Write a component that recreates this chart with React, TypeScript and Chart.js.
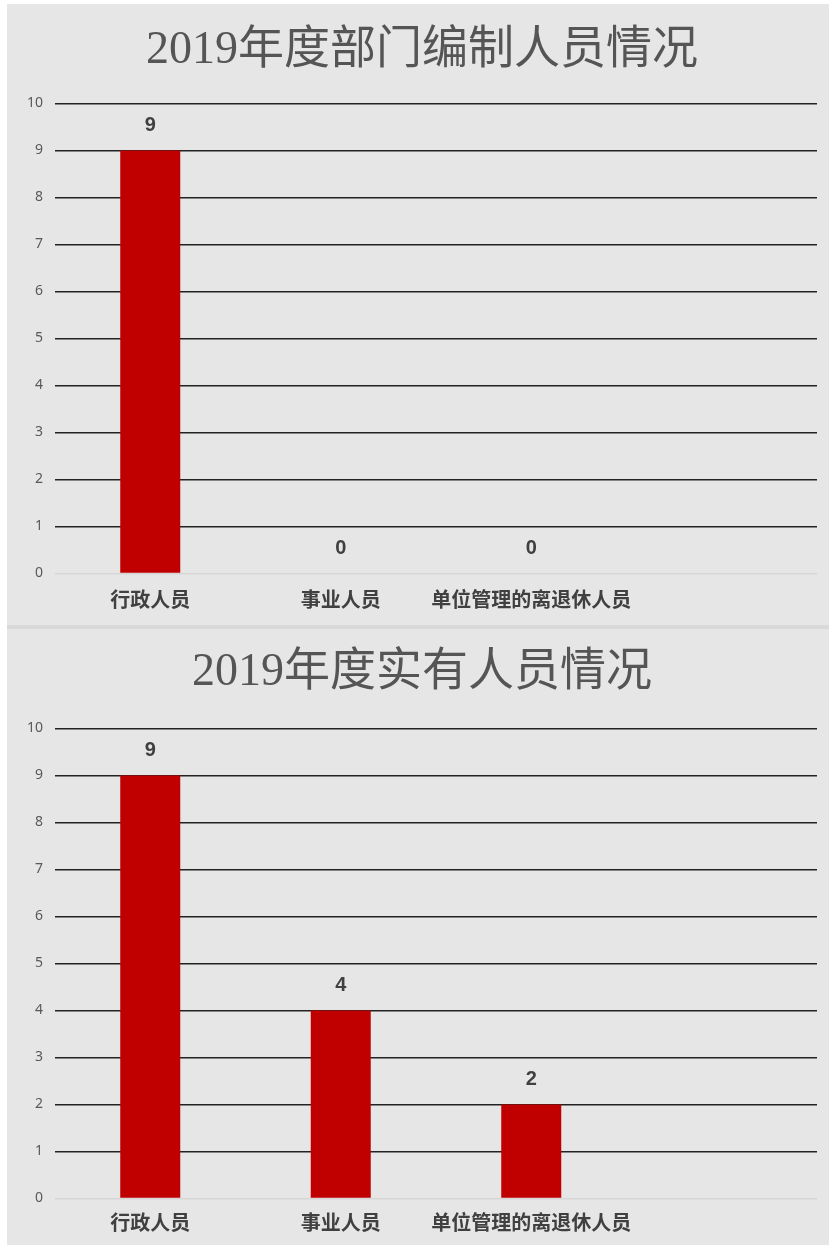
import React, { useEffect, useRef } from "react";
import { Chart, registerables } from "chart.js";

Chart.register(...registerables);

// ---- data ----
const categories = ["行政人员", "事业人员", "单位管理的离退休人员", ""];
const staffingValues: (number | null)[] = [9, 0, 0, null];
const actualValues: (number | null)[] = [9, 4, 2, null];
const staffingTitle = "2019年度部门编制人员情况";
const actualTitle = "2019年度实有人员情况";
const yMin = 0;
const yMax = 10;
const yStep = 1;

const BAR_COLOR = "#c00000";
const PANEL_BG = "#e6e6e6";

const valueLabelPlugin = {
  id: "valueLabels",
  afterDatasetsDraw(chart: any) {
    const ctx = chart.ctx;
    const meta = chart.getDatasetMeta(0);
    const data = chart.data.datasets[0].data;
    ctx.save();
    ctx.font = 'bold 20px "Liberation Sans", "Noto Sans", sans-serif';
    ctx.fillStyle = "#404040";
    ctx.textAlign = "center";
    ctx.textBaseline = "middle";
    meta.data.forEach((el: any, i: number) => {
      const v = data[i];
      if (v === null || v === undefined) return;
      ctx.fillText(String(v), el.x, el.y - 25);
    });
    ctx.restore();
  },
};

function Panel(props: {
  title: string;
  values: (number | null)[];
  top: number;
  height: number;
  titleCenter: number;
  labelCenter: number;
}) {
  const ref = useRef<HTMLCanvasElement | null>(null);
  const width = 822;
  useEffect(() => {
    if (!ref.current) return;
    const titleFont = 46;
    const titleLH = titleFont * 1.2;
    const padTop = props.titleCenter - titleLH / 2;
    const padBottom = 99.5 - padTop - titleLH;
    const xFont = 20;
    const xLH = xFont * 1.2;
    const xPad = props.labelCenter - 569.5 - xLH / 2;
    const chart = new Chart(ref.current, {
      type: "bar",
      data: {
        labels: categories,
        datasets: [
          {
            data: props.values,
            backgroundColor: BAR_COLOR,
            borderWidth: 0,
            categoryPercentage: 1,
            barPercentage: 0.315,
          },
        ],
      },
      plugins: [valueLabelPlugin],
      options: {
        animation: false,
        responsive: false,
        maintainAspectRatio: false,
        devicePixelRatio: 1,
        layout: { padding: { left: 20, right: 12, top: 0, bottom: 0 } },
        plugins: {
          legend: { display: false },
          tooltip: { enabled: false },
          title: {
            display: true,
            text: props.title,
            color: "#555555",
            font: {
              family: '"Liberation Serif", "Noto Sans CJK SC", serif',
              size: titleFont,
              weight: "normal",
              lineHeight: 1.2,
            },
            padding: { top: padTop, bottom: padBottom },
          },
        },
        scales: {
          x: {
            grid: { display: false, drawTicks: false },
            border: { display: false },
            ticks: {
              color: "#404040",
              padding: xPad,
              maxRotation: 0,
              autoSkip: false,
              font: {
                family: '"Noto Sans CJK SC", sans-serif',
                size: xFont,
                weight: "bold",
                lineHeight: 1.2,
              },
            },
            afterFit: (s: any) => {
              s.height = props.height - 569.5;
            },
          },
          y: {
            min: yMin,
            max: yMax,
            grid: {
              drawTicks: false,
              lineWidth: 1.5,
              color: (c: any) => (c.tick && c.tick.value === 0 ? "#d6d6d6" : "#222222"),
            },
            border: { display: false },
            ticks: {
              stepSize: yStep,
              color: "#595959",
              padding: 12,
              font: { family: '"Noto Sans", sans-serif', size: 14 },
            },
            afterFit: (s: any) => {
              s.width = 28;
            },
          },
        },
      } as any,
    });
    return () => chart.destroy();
  }, []);
  return (
    <div
      style={{
        position: "absolute",
        left: 7,
        top: props.top,
        width,
        height: props.height,
        background: PANEL_BG,
      }}
    >
      <canvas ref={ref} width={width} height={props.height} style={{ display: "block" }} />
    </div>
  );
}

export default function App() {
  return (
    <div
      style={{
        position: "absolute",
        left: 0,
        top: 0,
        width: 829,
        height: 1247,
        background: "#ffffff",
        overflow: "hidden",
      }}
    >
      <Panel title={staffingTitle} values={staffingValues} top={4} height={621} titleCenter={47} labelCenter={595} />
      <div style={{ position: "absolute", left: 7, top: 625, width: 822, height: 4, background: "#d9d9d9" }} />
      <Panel title={actualTitle} values={actualValues} top={629} height={616} titleCenter={44} labelCenter={593} />
    </div>
  );
}
